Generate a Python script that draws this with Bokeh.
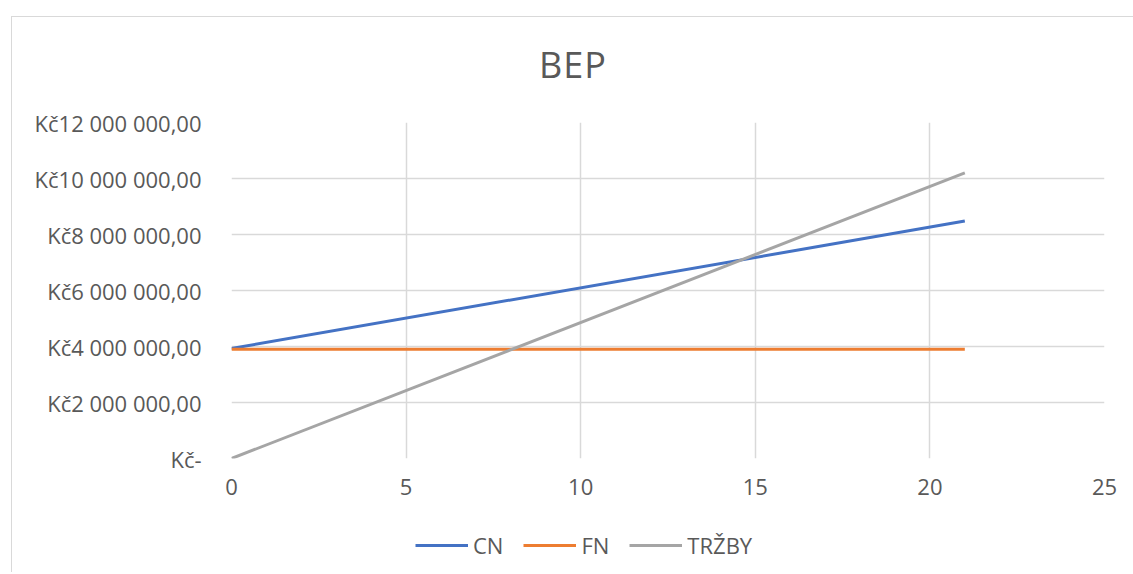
from bokeh.plotting import figure
from bokeh.models import Range1d, Legend, LegendItem, FixedTicker, Spacer, Div
from bokeh.layouts import column, row
from bokeh.embed import file_html
from bokeh.resources import INLINE

# ---- data ----
x_vals = [0, 21]
cn_vals = [3930000, 8480000]
fn_vals = [3900000, 3900000]
trzby_vals = [0, 10200000]
series_names = ["CN", "FN", "TRŽBY"]
series_colors = ["#4472C4", "#ED7D31", "#A5A5A5"]
title_text = "BEP"

x_ticks = [0, 5, 10, 15, 20, 25]
y_ticks = [0, 2000000, 4000000, 6000000, 8000000, 10000000, 12000000]
y_tick_labels = ["Kč-", "Kč2 000 000,00", "Kč4 000 000,00", "Kč6 000 000,00",
                 "Kč8 000 000,00", "Kč10 000 000,00", "Kč12 000 000,00"]

FONT = "Open Sans"
TXT = "#595959"

title_div = Div(
    text=('<div style="width:1122px;text-align:center;font-family:\'Open Sans\';'
          'font-size:36px;line-height:40px;color:#595959;padding-top:28px;'
          'letter-spacing:1px">' + title_text + '</div>'),
    width=1122, height=85, margin=0)

p = figure(frame_width=873, frame_height=336, output_backend="svg", toolbar_location=None,
           x_range=Range1d(0, 25), y_range=Range1d(0, 12000000),
           min_border_left=219, min_border_right=29, min_border_top=20,
           min_border_bottom=60)
p.outline_line_color = None
p.background_fill_color = "white"
p.border_fill_color = "white"

for ys, col in zip([cn_vals, fn_vals, trzby_vals], series_colors):
    p.line(x_vals, ys, line_color=col, line_width=3)

p.xaxis.ticker = FixedTicker(ticks=x_ticks)
p.yaxis.ticker = FixedTicker(ticks=y_ticks)
p.yaxis.major_label_overrides = {t: l for t, l in zip(y_ticks, y_tick_labels)}
for ax in (p.xaxis, p.yaxis):
    ax.major_label_text_font = FONT
    ax.major_label_text_font_size = "22px"
    ax.major_label_text_color = TXT
    ax.major_tick_line_color = None
    ax.minor_tick_line_color = None
    ax.axis_line_color = None
p.xaxis.major_label_standoff = 14
p.yaxis.major_label_standoff = 24

p.xgrid.ticker = FixedTicker(ticks=x_ticks)
p.ygrid.ticker = FixedTicker(ticks=y_ticks)
p.grid.grid_line_color = "#d9d9d9"
p.grid.grid_line_width = 1.5

# legend strip below the chart (its lines lie outside its visible ranges)
lf = figure(width=1122, height=54, output_backend="svg", toolbar_location=None,
            x_range=Range1d(100, 101), y_range=Range1d(100, 101),
            x_axis_type=None, y_axis_type=None, min_border=0)
lf.outline_line_color = None
lf.grid.visible = False
leg_items = []
for name, ys, col in zip(series_names, [cn_vals, fn_vals, trzby_vals], series_colors):
    r = lf.line(x_vals, ys, line_color=col, line_width=3)
    leg_items.append(LegendItem(label=name, renderers=[r]))
legend = Legend(items=leg_items, orientation="horizontal", location=(184, 12),
                label_text_font=FONT, label_text_font_size="22px",
                label_text_color=TXT, glyph_width=53, label_standoff=5,
                spacing=20, border_line_color=None, background_fill_alpha=0,
                margin=0, padding=0)
lf.add_layout(legend)

chart = column(title_div, p, lf, spacing=0)
chart.styles = {"border-left": "1px solid #d9d9d9", "border-top": "1px solid #d9d9d9"}
layout = column(Spacer(height=16, width=1133),
                row(Spacer(width=11, height=10), chart))
open("out.html", "w").write(file_html(layout, INLINE))
